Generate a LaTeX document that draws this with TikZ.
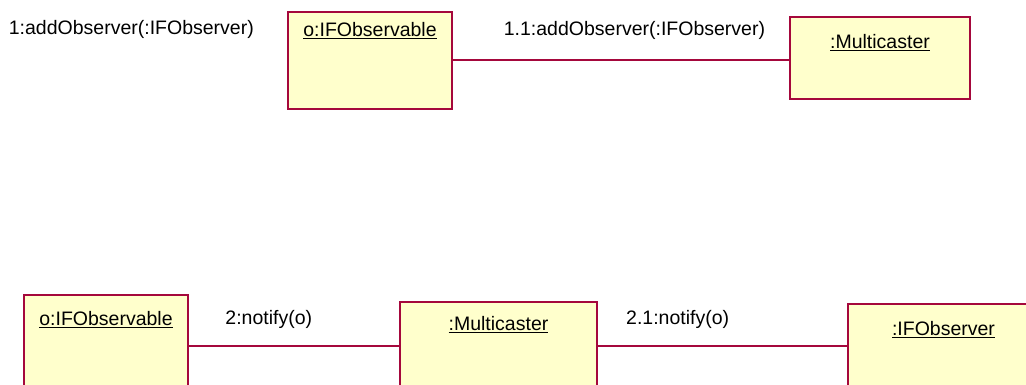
\documentclass[tikz,border=0pt]{standalone}
\usepackage{fontspec}
\setmainfont{Liberation Sans}
\usetikzlibrary{positioning}
\definecolor{objline}{RGB}{165,8,60}
\definecolor{objfill}{RGB}{255,255,204}

\begin{document}
\begin{tikzpicture}[
		x=1pt, y=-1pt,
		font=\fontsize{19.5}{23}\selectfont,
		obj/.style={
			draw=objline, fill=objfill, line width=2pt, inner sep=0pt
		},
		ttl/.style={anchor=north, inner sep=0pt},
		msg/.style={inner sep=0pt},
		lnk/.style={draw=objline, line width=2pt}
		]
		\useasboundingbox (0,0) rectangle (1026,385);
		
		% ---- obere Kollaboration: addObserver
		\node[obj, minimum width=164pt, minimum height=97pt,
			label={[ttl, yshift=-11pt]north:\underline{o:IFObservable}}] (obs1) at (370,60.5) {};
		\node[obj, minimum width=180pt, minimum height=82pt,
			label={[ttl, yshift=-18pt]north:\underline{:Multicaster}}]   (mc1)  at (880,58) {};
		\node[msg, left=33pt of obs1.north west, yshift=-18pt] (add1) {1:addObserver(:IFObserver)};
		
		\draw[lnk] (obs1.east) -- node[msg, above=20pt, pos=.54]{1.1:addObserver(:IFObserver)} (obs1.east -| mc1.west);
		
		% ---- untere Kollaboration: notify
		\node[obj, minimum width=164pt, minimum height=102pt,
			label={[ttl, yshift=-17pt]north:\underline{o:IFObservable}}] (obs2) at (106,346) {};
		\node[obj, minimum width=197pt, minimum height=88pt,
			label={[ttl, yshift=-15pt]north:\underline{:Multicaster}}]   (mc2)  at (498.5,346) {};
		\node[obj, minimum width=191pt, minimum height=84pt,
			label={[ttl, yshift=-18pt]north:\underline{:IFObserver}}]    (obsv) at (943.5,346) {};
		
		\draw[lnk] (obs2.east) -- node[msg, above=16pt, pos=.38]{2:notify(o)} (mc2.west);
		\draw[lnk] (mc2.east) -- node[msg, above=16pt, pos=.32]{2.1:notify(o)} (obsv.west);
	\end{tikzpicture}
\end{document}
